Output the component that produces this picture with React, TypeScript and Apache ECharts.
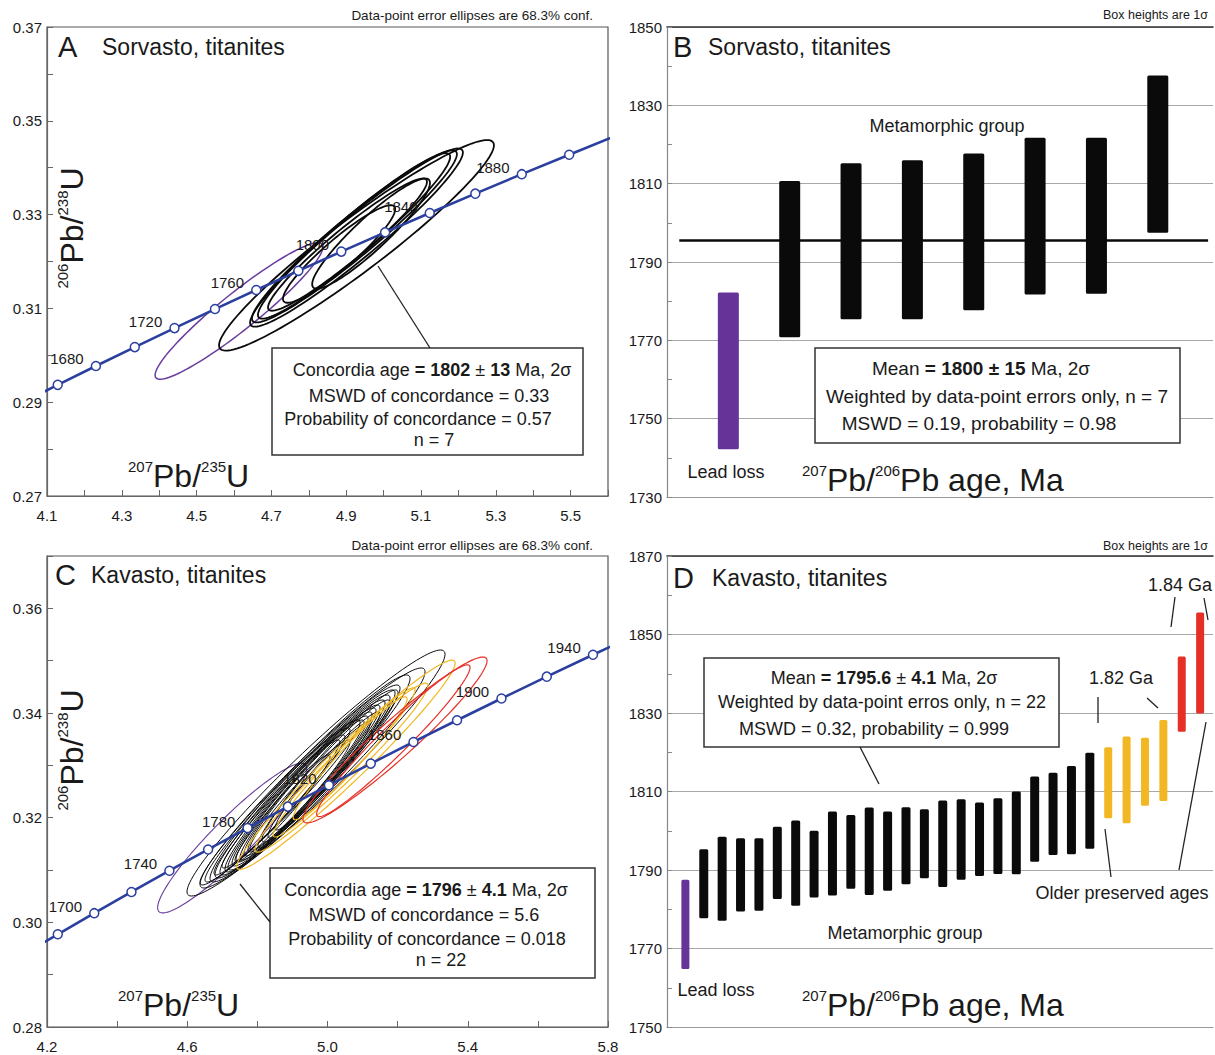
import React, { useEffect, useRef } from 'react';
import * as echarts from 'echarts';

const FONT = '"Liberation Sans", Arial, Helvetica, sans-serif';
const TXT = '#1a1a1a';
const BLUE = '#2b3f9f';
const PURPLE = '#6a3d9e';
const PURPLE_BAR = '#663399';
const YELLOW = '#f2b823';
const RED = '#e62f27';
const BLACK = '#0a0a0a';

// ---- Concordia curve: marker ages (Ma) and their 207Pb/235U, 206Pb/238U ratios
const concordiaAges = [1640, 1660, 1680, 1700, 1720, 1740, 1760, 1780, 1800, 1820, 1840, 1860, 1880, 1900, 1920, 1940, 1960];
const concordiaX = [4.02866, 4.12869, 4.23072, 4.33477, 4.44089, 4.54912, 4.65951, 4.77209, 4.8869, 5.00401, 5.12343, 5.24523, 5.36948, 5.49618, 5.6254, 5.75719, 5.8916];
const concordiaY = [0.28969, 0.2937, 0.29772, 0.30175, 0.3058, 0.30986, 0.31393, 0.31801, 0.32211, 0.32621, 0.33033, 0.33447, 0.33862, 0.34277, 0.34695, 0.35113, 0.35533];
const labelAgesA = [1680, 1720, 1760, 1800, 1840, 1880];
const labelAgesC = [1700, 1740, 1780, 1820, 1860, 1900, 1940];

// ---- Error ellipses: [xmin, xmax, ymin, ymax, rho]
const sorvastoLeadLoss = [[4.389, 4.838, 0.2949, 0.324, 0.94]];
const sorvastoMeta = [
  [4.56, 5.295, 0.301, 0.3459, 0.95],
  [4.643, 5.212, 0.3061, 0.3441, 0.955],
  [4.648, 5.196, 0.307, 0.3437, 0.955],
  [4.664, 5.178, 0.3078, 0.3431, 0.955],
  [4.691, 5.116, 0.3095, 0.3377, 0.95],
  [4.731, 5.031, 0.3112, 0.332, 0.92],
  [4.809, 5.124, 0.3142, 0.3377, 0.92],
];
const kavastoLeadLoss = [[4.5155, 4.9407, 0.3018, 0.3304, 0.93]];
const kavastoMeta = [
  [4.5993, 5.3352, 0.30503, 0.35204, 0.965],
  [4.6364, 5.2782, 0.30656, 0.3486, 0.965],
  [4.6649, 5.2354, 0.30771, 0.34727, 0.965],
  [4.6792, 5.2068, 0.30847, 0.34535, 0.965],
  [4.6934, 5.1926, 0.30905, 0.3444, 0.965],
  [4.7077, 5.1783, 0.30962, 0.34344, 0.965],
  [4.7163, 5.1641, 0.31, 0.34249, 0.965],
  [4.7277, 5.1498, 0.31077, 0.34153, 0.965],
  [4.7391, 5.1384, 0.31153, 0.34096, 0.965],
  [4.7505, 5.127, 0.31191, 0.34019, 0.965],
  [4.7619, 5.1156, 0.31268, 0.33943, 0.965],
  [4.7733, 5.1042, 0.31344, 0.33867, 0.965],
  [4.6364, 5.0928, 0.30714, 0.33867, 0.97],
  [4.6507, 5.0642, 0.30771, 0.33714, 0.97],
  [4.6763, 5.05, 0.30905, 0.3358, 0.97],
  [4.6991, 5.0357, 0.31038, 0.33484, 0.97],
  [4.8018, 5.2011, 0.31421, 0.3444, 0.965],
  [4.8132, 5.1783, 0.31535, 0.34249, 0.965],
  [4.8304, 5.1498, 0.31612, 0.34019, 0.965],
  [4.8503, 5.1213, 0.31765, 0.33828, 0.965],
  [4.7362, 5.0072, 0.31153, 0.33198, 0.965],
  [4.779, 5.0642, 0.31382, 0.33484, 0.965],
];
const kavasto182 = [
  [4.741, 5.364, 0.3101, 0.3501, 0.972],
  [4.793, 5.287, 0.3134, 0.3457, 0.972],
  [4.845, 5.25, 0.3163, 0.3448, 0.972],
  [4.902, 5.227, 0.3196, 0.3431, 0.965],
];
const kavasto184 = [
  [4.93, 5.455, 0.319, 0.3507, 0.955],
  [4.969, 5.4065, 0.3202, 0.3492, 0.965],
];

// ---- 207Pb/206Pb ages (Ma), 1 sigma boxes
const sorvastoLow = [1742.2, 1770.8, 1775.4, 1775.4, 1777.7, 1781.7, 1781.9, 1797.5];
const sorvastoHigh = [1782.2, 1810.7, 1815.2, 1816.0, 1817.7, 1821.7, 1821.7, 1837.6];
const sorvastoGroup = ['lead', 'meta', 'meta', 'meta', 'meta', 'meta', 'meta', 'meta'];
const sorvastoMeanLine = 1795.5;

const kavastoLow = [1764.8, 1777.7, 1777.1, 1779.4, 1779.6, 1782.6, 1780.9, 1783.0, 1783.5, 1785.2, 1783.6, 1784.7, 1786.4, 1787.9, 1785.7, 1787.5, 1788.5, 1789.0, 1788.9, 1792.1, 1793.8, 1794.0, 1795.4, 1803.2, 1801.9, 1806.4, 1807.6, 1825.2, 1829.9];
const kavastoHigh = [1787.5, 1795.3, 1798.5, 1798.1, 1798.1, 1801.0, 1802.6, 1800.0, 1804.9, 1804.0, 1805.9, 1804.9, 1806.0, 1805.5, 1807.7, 1808.0, 1807.2, 1808.3, 1810.0, 1813.8, 1814.8, 1816.5, 1819.9, 1821.3, 1824.0, 1823.7, 1828.2, 1844.4, 1855.6];
const kavastoGroup = ['lead', 'meta', 'meta', 'meta', 'meta', 'meta', 'meta', 'meta', 'meta', 'meta', 'meta', 'meta', 'meta', 'meta', 'meta', 'meta', 'meta', 'meta', 'meta', 'meta', 'meta', 'meta', 'meta', 'g182', 'g182', 'g182', 'g182', 'g184', 'g184'];

function ellipseSeries(data: number[][], color: string, lineWidth: number, idx: number) {
  return {
    type: 'custom',
    coordinateSystem: 'cartesian2d',
    xAxisIndex: idx,
    yAxisIndex: idx,
    clip: true,
    silent: true,
    z: 3,
    data,
    renderItem: (params: any, api: any) => {
      const x0 = api.value(0), x1 = api.value(1), y0 = api.value(2), y1 = api.value(3), r = api.value(4);
      const cx = (x0 + x1) / 2, cy = (y0 + y1) / 2, ax = (x1 - x0) / 2, ay = (y1 - y0) / 2;
      const s = Math.sqrt(1 - r * r);
      const pts: number[][] = [];
      const N = 120;
      for (let k = 0; k < N; k++) {
        const t = (k / N) * Math.PI * 2;
        pts.push(api.coord([cx + ax * Math.cos(t), cy + ay * (r * Math.cos(t) + s * Math.sin(t))]));
      }
      return { type: 'polygon', shape: { points: pts }, style: { fill: 'none', stroke: color, lineWidth } };
    },
  };
}

function barSeries(low: number[], high: number[], group: string[], g: string, color: string, width: number, idx: number) {
  const data: number[][] = [];
  low.forEach((lo, i) => { if (group[i] === g) data.push([i, lo, high[i]]); });
  return {
    type: 'custom',
    coordinateSystem: 'cartesian2d',
    xAxisIndex: idx,
    yAxisIndex: idx,
    silent: true,
    z: 3,
    data,
    renderItem: (params: any, api: any) => {
      const i = api.value(0), lo = api.value(1), hi = api.value(2);
      const top = api.coord([i, hi]);
      const bot = api.coord([i, lo]);
      return { type: 'rect', shape: { x: top[0] - width / 2, y: top[1], width, height: bot[1] - top[1], r: 1.5 }, style: { fill: color } };
    },
  };
}

function concordiaSeries(idx: number, labelAges: number[]) {
  return {
    type: 'line',
    xAxisIndex: idx,
    yAxisIndex: idx,
    clip: true,
    silent: true,
    z: 6,
    symbol: 'circle',
    symbolSize: 9,
    showAllSymbol: true,
    lineStyle: { color: BLUE, width: 2.6 },
    itemStyle: { color: '#ffffff', borderColor: BLUE, borderWidth: 1.5 },
    label: { show: false, position: 'left', distance: 7, offset: [0, -7], fontSize: 15, fontFamily: FONT, color: TXT, formatter: '{b}' },
    data: concordiaAges.map((a, i) => ({ name: String(a), value: [concordiaX[i], concordiaY[i]], label: { show: labelAges.includes(a) } })),
  };
}

const txt = (x: number, y: number, text: string, fontSize: number, align = 'left', extra: any = {}) => ({
  type: 'text', x, y, z: 100, ...(extra.el || {}),
  style: { text, fontSize, fontFamily: FONT, fill: TXT, align, textAlign: align, verticalAlign: 'middle', textVerticalAlign: 'middle', ...(extra.style || {}) },
});
const ln = (x1: number, y1: number, x2: number, y2: number, w = 1.3) => ({ type: 'line', z: 100, shape: { x1, y1, x2, y2 }, style: { stroke: '#222', lineWidth: w } });
const box = (x: number, y: number, w: number, h: number) => ({ type: 'rect', z: 99, shape: { x, y, width: w, height: h }, style: { fill: '#ffffff', stroke: '#333', lineWidth: 1.5 } });

const richStat = (fs: number) => ({
  n: { fontSize: fs, fontFamily: FONT, fill: TXT, color: TXT },
  b: { fontSize: fs, fontFamily: FONT, fill: TXT, color: TXT, fontWeight: 'bold' },
});
const richIso = {
  s: { fontSize: 15, fontFamily: FONT, fill: TXT, color: TXT, verticalAlign: 'top', lineHeight: 16 },
  b: { fontSize: 32, fontFamily: FONT, fill: TXT, color: TXT, lineHeight: 34 },
};
const stat = (x: number, y: number, text: string, fs: number) => txt(x, y, text, fs, 'center', { style: { rich: richStat(fs) } });
const iso = (x: number, y: number, text: string, align = 'left', rot = 0) =>
  txt(x, y, text, 32, align, { el: rot ? { rotation: rot } : {}, style: { rich: richIso } });

function ratioAxisX(idx: number, min: number, max: number, interval: number, fmt: (v: number) => string) {
  return {
    type: 'value', gridIndex: idx, min, max, interval,
    axisLine: { show: true, onZero: false, lineStyle: { color: '#666', width: 1.2 } },
    axisTick: { show: true, inside: true, length: 6, lineStyle: { color: '#666' } },
    axisLabel: { formatter: fmt, fontSize: 15, fontFamily: FONT, color: TXT, margin: 12 },
    splitLine: { show: false },
  };
}
function ratioAxisY(idx: number, min: number, max: number, interval: number, fmt: (v: number) => string) {
  return {
    type: 'value', gridIndex: idx, min, max, interval,
    axisLine: { show: true, onZero: false, lineStyle: { color: '#666', width: 1.2 } },
    axisTick: { show: true, inside: true, length: 6, lineStyle: { color: '#666' } },
    axisLabel: { formatter: fmt, fontSize: 15, fontFamily: FONT, color: TXT, margin: 5 },
    splitLine: { show: false },
  };
}
function ageAxisY(idx: number, min: number, max: number) {
  return {
    type: 'value', gridIndex: idx, min, max, interval: 10,
    axisLine: { show: true, onZero: false, lineStyle: { color: '#888', width: 1.2 } },
    axisTick: { show: true, inside: true, length: 5, lineStyle: { color: '#888' } },
    axisLabel: { formatter: (v: number) => ((Math.round(v) - min) % 20 === 0 ? String(Math.round(v)) : ''), fontSize: 15, fontFamily: FONT, color: TXT, margin: 5 },
    splitLine: { show: true, lineStyle: { color: ['#a8a8a8', 'rgba(0,0,0,0)'], width: 1.2 } },
  };
}
function indexAxis(idx: number, max: number, top = false) {
  return {
    type: 'value', gridIndex: idx, min: -1, max, position: top ? 'top' : 'bottom',
    axisLine: { show: true, onZero: false, lineStyle: { color: top ? '#333' : '#999', width: top ? 1.6 : 1.2 } },
    axisTick: { show: false }, axisLabel: { show: false }, splitLine: { show: false },
  };
}

export default function App() {
  const ref = useRef<HTMLDivElement>(null);
  useEffect(() => {
    if (!ref.current) return;
    const chart = echarts.init(ref.current, null, { renderer: 'svg' });
    const frame = { show: true, borderColor: '#555', borderWidth: 1.2, backgroundColor: 'transparent' };
    const option: any = {
      animation: false,
      backgroundColor: '#ffffff',
      grid: [
        { left: 47, top: 27, width: 561, height: 469, outerBoundsMode: 'none', ...frame },
        { left: 667, top: 27, width: 546, height: 470, outerBoundsMode: 'none' },
        { left: 47, top: 556, width: 561, height: 471, outerBoundsMode: 'none', ...frame },
        { left: 667, top: 556, width: 546, height: 471, outerBoundsMode: 'none' },
      ],
      xAxis: [
        ratioAxisX(0, 4.1, 5.6, 0.1, (v) => { const k = Math.round(v * 10); return (k - 41) % 2 === 0 && k <= 55 ? (k / 10).toFixed(1) : ''; }),
        indexAxis(1, 7.9),
        ratioAxisX(2, 4.2, 5.8, 0.2, (v) => { const k = Math.round(v * 10); return (k - 42) % 4 === 0 ? (k / 10).toFixed(1) : ''; }),
        indexAxis(3, 28.7),
        indexAxis(1, 7.9, true),
        indexAxis(3, 28.7, true),
      ],
      yAxis: [
        ratioAxisY(0, 0.27, 0.37, 0.01, (v) => { const k = Math.round(v * 100); return k % 2 === 1 ? (k / 100).toFixed(2) : ''; }),
        ageAxisY(1, 1730, 1850),
        ratioAxisY(2, 0.28, 0.37, 0.01, (v) => { const k = Math.round(v * 100); return k % 2 === 0 ? (k / 100).toFixed(2) : ''; }),
        ageAxisY(3, 1750, 1870),
      ],
      series: [
        ellipseSeries(sorvastoLeadLoss, PURPLE, 1.5, 0),
        ellipseSeries(sorvastoMeta, BLACK, 1.8, 0),
        concordiaSeries(0, labelAgesA),
        barSeries(sorvastoLow, sorvastoHigh, sorvastoGroup, 'lead', PURPLE_BAR, 21, 1),
        barSeries(sorvastoLow, sorvastoHigh, sorvastoGroup, 'meta', BLACK, 21, 1),
        {
          type: 'line', xAxisIndex: 1, yAxisIndex: 1, silent: true, symbol: 'none', z: 4,
          lineStyle: { color: BLACK, width: 2.4 },
          data: [[-0.8, sorvastoMeanLine], [7.82, sorvastoMeanLine]],
        },
        ellipseSeries(kavastoLeadLoss, PURPLE, 1.1, 2),
        ellipseSeries(kavastoMeta, BLACK, 1.0, 2),
        ellipseSeries(kavasto182, YELLOW, 1.2, 2),
        ellipseSeries(kavasto184, RED, 1.2, 2),
        concordiaSeries(2, labelAgesC),
        barSeries(kavastoLow, kavastoHigh, kavastoGroup, 'lead', PURPLE_BAR, 8, 3),
        barSeries(kavastoLow, kavastoHigh, kavastoGroup, 'meta', BLACK, 9, 3),
        barSeries(kavastoLow, kavastoHigh, kavastoGroup, 'g182', YELLOW, 8, 3),
        barSeries(kavastoLow, kavastoHigh, kavastoGroup, 'g184', RED, 8, 3),
      ],
      graphic: [
        // Panel A
        txt(593, 15, 'Data-point error ellipses are 68.3% conf.', 13.5, 'right'),
        txt(58, 47, 'A', 29),
        txt(102, 47, 'Sorvasto, titanites', 23),
        iso(72, 228, '{s|206}{b|Pb/}{s|238}{b|U}', 'center', Math.PI / 2),
        iso(128, 476, '{s|207}{b|Pb/}{s|235}{b|U}'),
        ln(430, 348, 378, 266),
        box(272, 348, 311, 107),
        stat(432, 370, '{n|Concordia age }{b|= 1802}{n| ± }{b|13}{n| Ma, 2σ}', 18),
        stat(429, 396, '{n|MSWD of concordance = 0.33}', 18),
        stat(418, 419, '{n|Probability of concordance = 0.57}', 18),
        stat(434, 440, '{n|n = 7}', 18),
        // Panel B
        txt(1208, 15, 'Box heights are 1σ', 12.5, 'right'),
        txt(673, 47, 'B', 29),
        txt(708, 47, 'Sorvasto, titanites', 23),
        txt(947, 126, 'Metamorphic group', 18, 'center'),
        txt(726, 472, 'Lead loss', 18, 'center'),
        iso(802, 480, '{s|207}{b|Pb/}{s|206}{b|Pb age, Ma}'),
        box(815, 348, 365, 95),
        stat(981, 368, '{n|Mean }{b|= 1800 ± 15}{n| Ma, 2σ}', 19),
        stat(997, 396, '{n|Weighted by data-point errors only, n = 7}', 19),
        stat(979, 423, '{n|MSWD = 0.19, probability = 0.98}', 19),
        // Panel C
        txt(593, 545, 'Data-point error ellipses are 68.3% conf.', 13.5, 'right'),
        txt(55, 575, 'C', 29),
        txt(91, 575, 'Kavasto, titanites', 23),
        iso(72, 750, '{s|206}{b|Pb/}{s|238}{b|U}', 'center', Math.PI / 2),
        iso(118, 1005, '{s|207}{b|Pb/}{s|235}{b|U}'),
        ln(240, 884, 270, 922),
        box(270, 868, 325, 110),
        stat(426, 890, '{n|Concordia age }{b|= 1796}{n| ± }{b|4.1}{n| Ma, 2σ}', 18),
        stat(424, 915, '{n|MSWD of concordance = 5.6}', 18),
        stat(427, 939, '{n|Probability of concordance = 0.018}', 18),
        stat(441, 960, '{n|n = 22}', 18),
        // Panel D
        txt(1208, 546, 'Box heights are 1σ', 12.5, 'right'),
        txt(673, 578, 'D', 29),
        txt(712, 578, 'Kavasto, titanites', 23),
        ln(860, 747, 879, 784),
        box(704, 658, 355, 89),
        stat(884, 678, '{n|Mean }{b|= 1795.6}{n| ± }{b|4.1}{n| Ma, 2σ}', 18),
        stat(882, 702, '{n|Weighted by data-point erros only, n = 22}', 18),
        stat(874, 729, '{n|MSWD = 0.32, probability = 0.999}', 18),
        txt(1180, 585, '1.84 Ga', 18, 'center'),
        ln(1175, 597, 1171, 627),
        ln(1204, 598, 1208, 620),
        txt(1121, 678, '1.82 Ga', 18, 'center'),
        ln(1098, 697, 1098, 723),
        ln(1147, 698, 1158, 708),
        txt(1122, 893, 'Older preserved ages', 18, 'center'),
        ln(1105, 829, 1111, 877),
        ln(1206, 722, 1179, 870),
        txt(905, 933, 'Metamorphic group', 18, 'center'),
        txt(716, 990, 'Lead loss', 18, 'center'),
        iso(802, 1005, '{s|207}{b|Pb/}{s|206}{b|Pb age, Ma}'),
      ],
    };
    chart.setOption(option);
    return () => chart.dispose();
  }, []);
  return <div ref={ref} style={{ position: 'absolute', left: 0, top: 0, width: 1215, height: 1055, background: '#fff' }} />;
}
